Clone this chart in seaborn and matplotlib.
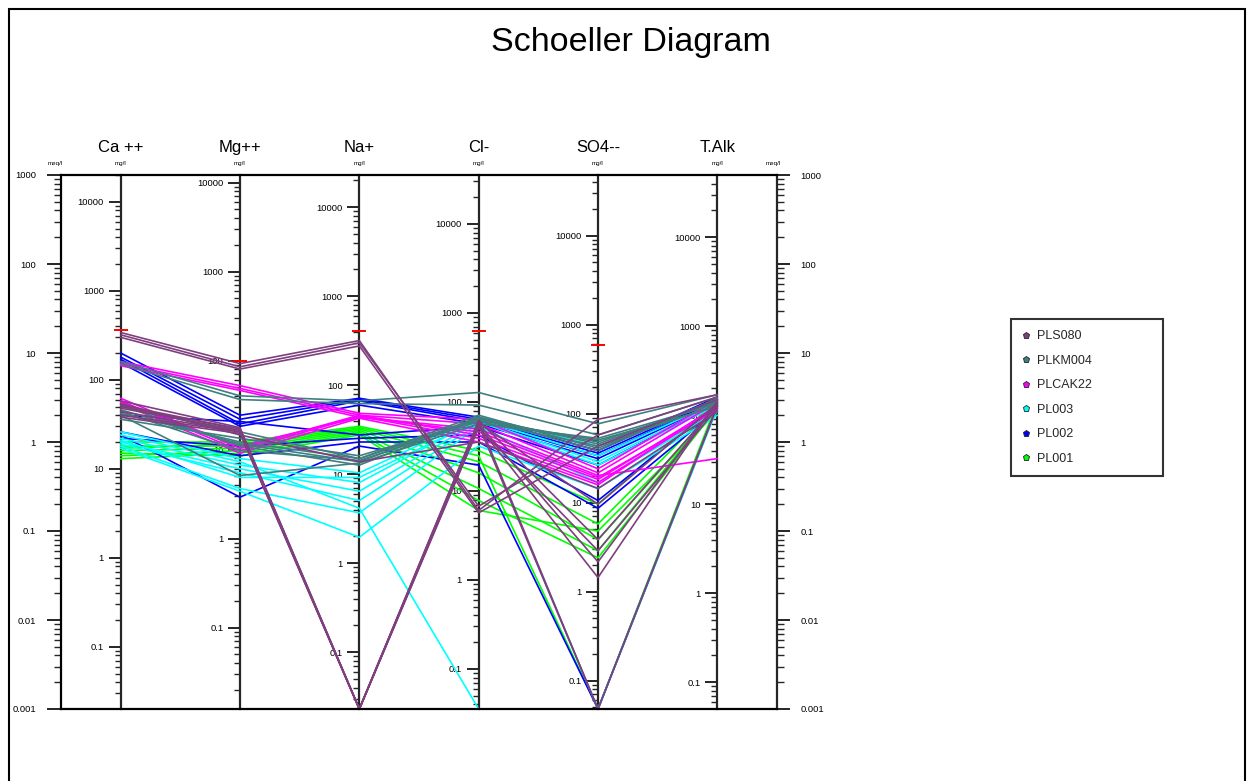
import numpy as np
import pandas as pd
import matplotlib
matplotlib.use("Agg")
import matplotlib.pyplot as plt
import matplotlib.transforms as mtrans
import seaborn as sns
from matplotlib.ticker import FixedLocator, FuncFormatter, NullFormatter
from matplotlib.lines import Line2D
from matplotlib.patches import Rectangle

# ---------------- data (meq/l) ----------------
ions = ["Ca ++", "Mg++", "Na+", "Cl-", "SO4--", "T.Alk"]
eq_weights = [20.04, 12.15, 22.99, 35.45, 48.03, 50.0]      # mg per meq
limits_meq = [18.1, 8.2, 17.6, 17.6, 12.3]                  # red marks Ca..SO4

groups = ["PLS080", "PLKM004", "PLCAK22", "PL003", "PL002", "PL001"]
colors = ["#7f3f7f", "#3f7f7f", "#ff00ff", "#00ffff", "#0000ff", "#00ff00"]

# each row: Ca, Mg, Na, Cl, SO4, T.Alk  (0 = not detected)
PLS080 = [
    [17.0, 7.6, 13.8, 0.17, 1.8, 3.4],
    [16.0, 7.0, 13.0, 0.19, 1.2, 3.2],
    [15.0, 6.6, 12.0, 0.16, 0.9, 3.0],
    [2.9, 1.45, 0, 1.5, 0.03, 2.9],
    [2.6, 1.40, 0, 1.6, 0.045, 2.8],
    [2.4, 1.35, 0, 1.7, 0, 2.6],
    [2.2, 1.30, 0, 1.55, 0, 2.5],
    [2.0, 1.30, 0, 1.45, 0.06, 2.4],
    [1.9, 1.25, 0, 1.65, 0.2, 2.7],
    [2.5, 1.40, 0, 1.75, 0.08, 2.6],
    [2.7, 1.20, 0.6, 1.0, 0.3, 2.2],
]
PLKM004 = [
    [8.0, 3.3, 2.9, 3.6, 1.6, 3.4],
    [7.5, 3.0, 2.7, 2.6, 1.2, 3.2],
    [2.5, 1.3, 0.65, 1.8, 1.0, 2.8],
    [2.3, 0.95, 0.60, 1.9, 0.95, 2.9],
    [2.2, 0.80, 0.62, 1.7, 0.9, 2.6],
    [2.0, 0.42, 0.58, 1.6, 1.1, 2.7],
    [2.1, 1.00, 0.65, 2.0, 0.85, 3.0],
    [1.8, 1.10, 0.70, 1.75, 1.05, 2.5],
    [2.6, 0.90, 0.55, 1.85, 0.8, 3.1],
]
PLCAK22 = [
    [8.0, 4.3, 2.1, 1.8, 0.50, 3.0],
    [7.6, 4.0, 2.0, 1.6, 0.45, 2.8],
    [7.2, 3.8, 1.9, 1.4, 0.42, 0.65],
    [3.1, 0.85, 2.0, 1.2, 0.38, 2.5],
    [2.9, 0.80, 1.95, 1.1, 0.35, 2.4],
    [2.7, 0.75, 1.85, 1.0, 0.33, 2.6],
    [2.8, 0.90, 1.90, 1.3, 0.40, 2.3],
]
PL003 = [
    [1.3, 0.65, 0.45, 1.9, 0.9, 3.0],
    [1.1, 0.55, 0.35, 1.8, 0.7, 2.8],
    [1.0, 0.50, 0.28, 1.7, 0.55, 2.6],
    [0.95, 0.45, 0.22, 1.6, 0, 2.4],
    [0.9, 0.30, 0.16, 1.5, 0.35, 2.2],
    [0.85, 0.28, 0.085, 0.9, 0.3, 2.0],
    [1.2, 0.60, 0.18, 0, 0, 2.5],
    [1.05, 0.40, 0.40, 1.75, 0.6, 2.7],
]
PL002 = [
    [10.0, 2.0, 3.1, 1.9, 0.80, 3.2],
    [9.0, 1.8, 3.0, 1.8, 0.75, 3.0],
    [8.5, 1.6, 2.9, 1.7, 0.70, 2.9],
    [7.8, 1.5, 2.6, 1.6, 0.65, 2.8],
    [1.2, 0.24, 0.9, 0.55, 0, 2.5],
    [1.3, 0.70, 1.0, 1.0, 0.18, 2.3],
    [1.1, 0.90, 1.1, 1.2, 0.22, 2.6],
    [2.0, 1.70, 1.2, 1.5, 0.55, 2.7],
]
PL001 = [
    [1.0, 1.0, 1.5, 0.8, 0.2, 2.9],
    [0.9, 0.9, 1.4, 0.6, 0.12, 2.7],
    [0.8, 0.85, 1.35, 0.45, 0.08, 2.5],
    [0.7, 0.80, 1.3, 0.3, 0.06, 2.6],
    [0.65, 0.75, 1.25, 0.22, 0.05, 2.4],
    [0.85, 0.95, 1.45, 0.7, 0, 2.8],
    [0.75, 0.70, 1.2, 0.17, 0.1, 2.2],
]
group_data = {"PLS080": PLS080, "PLKM004": PLKM004, "PLCAK22": PLCAK22,
              "PL003": PL003, "PL002": PL002, "PL001": PL001}

YMIN, YMAX = 0.001, 1000.0

rows = []
for g in groups:
    for i, sample in enumerate(group_data[g]):
        for k, v in enumerate(sample):
            rows.append({"group": g, "sample": f"{g}-{i}", "pos": k + 1,
                         "meq": max(v, YMIN)})
df = pd.DataFrame(rows)

# ---------------- figure ----------------
sns.set_style("white")
plt.rcParams["font.family"] = ["Liberation Sans", "DejaVu Sans"]

W, H = 1248, 781
fig = plt.figure(figsize=(W / 100, H / 100), dpi=100)
ax = fig.add_axes([61 / W, 1 - 709 / H, (777 - 61) / W, (709 - 175) / H])

palette = dict(zip(groups, colors))
sns.lineplot(data=df, x="pos", y="meq", hue="group", units="sample",
             estimator=None, sort=False, hue_order=groups[::-1],
             palette=palette, lw=1.2, legend=False, ax=ax)

ax.set_yscale("log")
ax.set_ylim(YMIN, YMAX)
ax.set_xlim(0.5, 6.5)
ax.set_xticks([])
ax.set_xlabel("")
ax.set_ylabel("")
ax.grid(False)

# red limit marks
ax.scatter(list(range(1, 6)), limits_meq, marker="_", color="red",
           s=90, linewidths=1.4, zorder=5, clip_on=False)

plain = FuncFormatter(lambda v, p: "{:g}".format(v))


def log_ticks(lo, hi):
    """decade and minor ticks strictly inside [lo, hi]."""
    major, minor = [], []
    for e in range(-6, 7):
        d = 10.0 ** e
        if lo * 0.999 <= d <= hi * 1.001:
            major.append(d)
        for s in range(2, 10):
            m = s * d
            if lo < m < hi:
                minor.append(m)
    return major, minor


def style_axis(axis_obj, lo, hi, major_len, minor_len, labelsize, pad):
    major, minor = log_ticks(lo, hi)
    axis_obj.yaxis.set_major_locator(FixedLocator(major))
    axis_obj.yaxis.set_minor_locator(FixedLocator(minor))
    axis_obj.yaxis.set_major_formatter(plain)
    axis_obj.yaxis.set_minor_formatter(NullFormatter())
    axis_obj.tick_params(axis="y", which="major", direction="out",
                         length=major_len, width=1.2, labelsize=labelsize,
                         pad=pad, colors="black")
    axis_obj.tick_params(axis="y", which="minor", direction="out",
                         length=minor_len, width=1.0)


for sp in ax.spines.values():
    sp.set_color("black")
    sp.set_linewidth(1.6)
ax.spines["right"].set_visible(False)
style_axis(ax, YMIN, YMAX, 10, 5, 6.8, 8)
ax.tick_params(axis="y", which="both", left=True)

# right meq/l axis
sec_r = ax.secondary_yaxis("right", functions=(lambda x: x, lambda x: x))
style_axis(sec_r, YMIN, YMAX, 9, 5, 6.8, 8)
for sp in sec_r.spines.values():
    sp.set_linewidth(1.6)

# ion axes in mg/l
for k, (ion, ew) in enumerate(zip(ions, eq_weights)):
    loc = (k + 0.5) / 6.0
    sec = ax.secondary_yaxis(loc, functions=(lambda m, e=ew: m * e,
                                              lambda g, e=ew: g / e))
    sec.set_alignment("left")
    style_axis(sec, YMIN * ew, YMAX * ew, 9, 4, 6.8, 3)
    for sp in sec.spines.values():
        sp.set_linewidth(1.6)

# header labels
blend = mtrans.blended_transform_factory(ax.transData, ax.transAxes)
for k, ion in enumerate(ions):
    ax.text(k + 1, 1.051, ion, transform=blend, ha="center", va="center",
            fontsize=12, color="black")
    ax.text(k + 1, 1.022, "mg/l", transform=blend, ha="center", va="center",
            fontsize=4.5, color="black")
ax.text(0.45, 1.022, "meq/l", transform=blend, ha="center", va="center",
        fontsize=4.5, color="black")
ax.text(6.47, 1.022, "meq/l", transform=blend, ha="center", va="center",
        fontsize=4.5, color="black")

# title
fig.text(631 / W, 1 - 42 / H, "Schoeller Diagram", ha="center", va="center",
         fontsize=24.5, color="black")

# legend
handles = [Line2D([], [], linestyle="none", marker="p", markersize=5,
                  markerfacecolor=c, markeredgecolor="#222222", markeredgewidth=0.6)
           for c in colors]
leg = fig.legend(handles, groups, loc="upper left",
                 bbox_to_anchor=(1011 / W, 1 - 476 / H, 152 / W, 157 / H),
                 mode="expand", frameon=True, fancybox=False, fontsize=9,
                 handlelength=0.6, handletextpad=0.6, labelspacing=1.0,
                 borderpad=0.9, borderaxespad=0.0)
leg.get_frame().set_edgecolor("black")
leg.get_frame().set_linewidth(1.5)

# outer border
fig.add_artist(Rectangle((9 / W, -0.05), (1245 - 9) / W, 1.05 - 9 / H,
                         transform=fig.transFigure, fill=False,
                         edgecolor="black", linewidth=1.5))

fig.savefig("out.png", dpi=100)
